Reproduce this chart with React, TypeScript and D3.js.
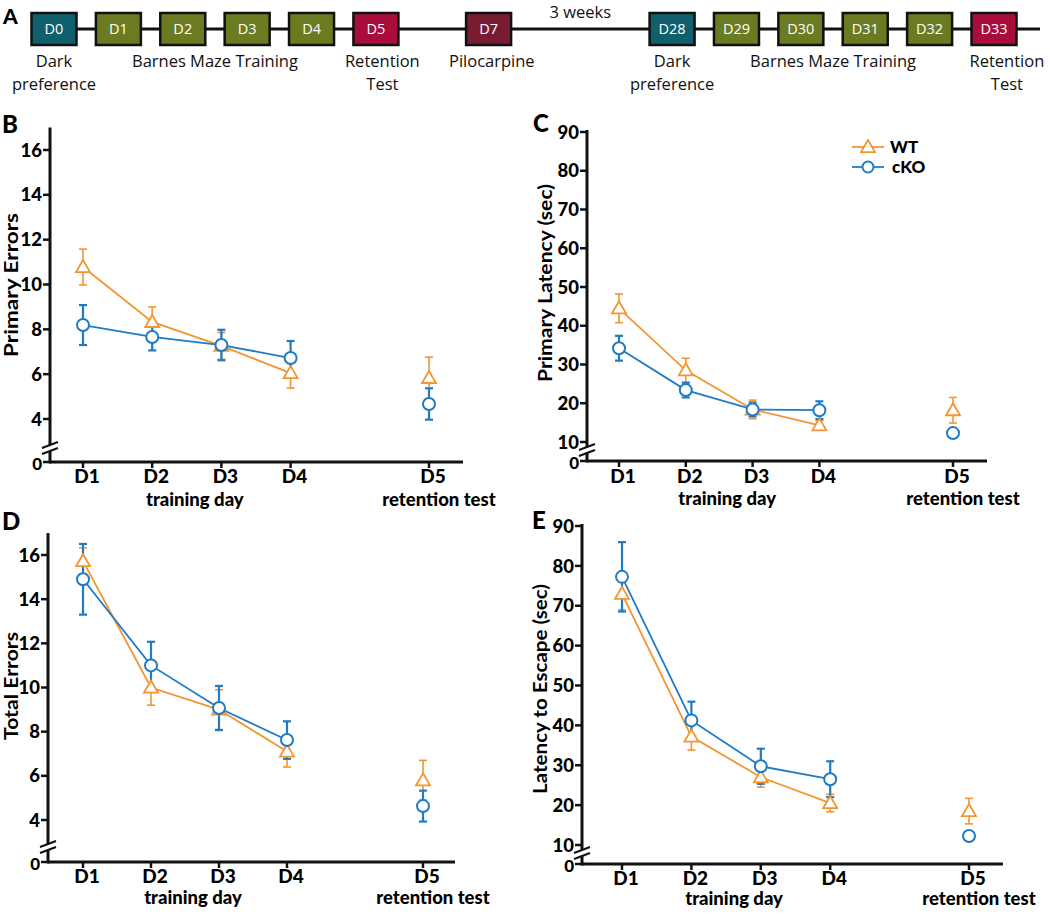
import React from "react";
import * as d3 from "d3";

// ---------- Panel A: timeline ----------
const timelineDays = ["D0", "D1", "D2", "D3", "D4", "D5", "D7", "D28", "D29", "D30", "D31", "D32", "D33"];
const timelineKinds = ["dark", "train", "train", "train", "train", "test", "pilo", "dark", "train", "train", "train", "train", "test"];
const timelineSlots = [0, 1, 2, 3, 4, 5, 6.75, 9.6, 10.6, 11.6, 12.6, 13.6, 14.6];
const captionSlots = [0, 2.5, 5.1, 6.8, 9.6, 12.1, 14.8];
const captionLines = [
  ["Dark", "preference"],
  ["Barnes Maze Training"],
  ["Retention", "Test"],
  ["Pilocarpine"],
  ["Dark", "preference"],
  ["Barnes Maze Training"],
  ["Retention", "Test"],
];
const gapLabel = "3 weeks";

// ---------- Panels B-E data ----------
const days = ["D1", "D2", "D3", "D4", "D5"];
const dayPositions = [1, 2, 3, 4, 6];
const seriesNames = ["WT", "cKO"];

const primaryErrorsWT = [10.78, 8.33, 7.26, 6.05, 5.83];
const primaryErrorsWTSem = [0.8, 0.67, 0.6, 0.67, 0.93];
const primaryErrorsKO = [8.19, 7.66, 7.3, 6.72, 4.67];
const primaryErrorsKOSem = [0.89, 0.6, 0.68, 0.76, 0.7];

const primaryLatencyWT = [44.5, 28.5, 18.4, 14.3, 18.2];
const primaryLatencyWTSem = [3.7, 3.1, 2.4, 1.2, 3.3];
const primaryLatencyKO = [34.2, 23.4, 18.4, 18.2, 12.3];
const primaryLatencyKOSem = [3.2, 1.9, 1.8, 2.3, 1.0];

const totalErrorsWT = [15.72, 10.0, 9.0, 7.1, 5.8];
const totalErrorsWTSem = [0.6, 0.8, 0.9, 0.7, 0.9];
const totalErrorsKO = [14.9, 11.0, 9.07, 7.62, 4.63];
const totalErrorsKOSem = [1.6, 1.07, 1.0, 0.85, 0.7];

const escapeWT = [73.0, 37.2, 27.0, 20.5, 18.5];
const escapeWTSem = [4.0, 3.4, 2.5, 2.2, 3.2];
const escapeKO = [77.25, 41.25, 29.75, 26.5, 12.25];
const escapeKOSem = [8.7, 4.7, 4.4, 4.5, 1.0];

const errorTicks = [4, 6, 8, 10, 12, 14, 16];
const secTicks = [10, 20, 30, 40, 50, 60, 70, 80, 90];

const ORANGE = "#F39530";
const BLUE = "#1F7BC4";
const AXIS_FONT = "Lato, 'Open Sans', sans-serif";
const TL_FONT = "'Open Sans', 'Noto Sans', sans-serif";

const boxColors: Record<string, string> = {
  dark: "#0f5f6d",
  train: "#6b7b22",
  test: "#a80d3b",
  pilo: "#7a1c31",
};

function Timeline() {
  const x = d3.scaleLinear().domain([0, 14.6]).range([54, 994]);
  const bw = 45;
  const bh = 32;
  const cy = 29;
  return (
    <g>
      <text x={3} y={24} fontFamily={AXIS_FONT} fontWeight={900} fontSize={21}>A</text>
      <line x1={x(0) - bw / 2} x2={1040} y1={cy} y2={cy} stroke="#111" strokeWidth={3} />
      {timelineDays.map((d, i) => (
        <g key={d}>
          <rect
            x={x(timelineSlots[i]) - bw / 2}
            y={cy - bh / 2}
            width={bw}
            height={bh}
            fill={boxColors[timelineKinds[i]]}
            stroke="#111"
            strokeWidth={2.5}
          />
          <text
            x={x(timelineSlots[i])}
            y={cy + 5}
            textAnchor="middle"
            fill="#fff"
            fontFamily={TL_FONT}
            fontSize={14.5}
          >
            {d}
          </text>
        </g>
      ))}
      <text x={(x(6.75) + x(9.6)) / 2} y={18} textAnchor="middle" fontFamily={TL_FONT} fontSize={16.5} fill="#111">
        {gapLabel}
      </text>
      {captionLines.map((lines, i) => (
        <text key={i} textAnchor="middle" fontFamily={TL_FONT} fontSize={16.5} fill="#111">
          {lines.map((l, j) => (
            <tspan key={j} x={x(captionSlots[i])} y={67 + j * 23}>
              {l}
            </tspan>
          ))}
        </text>
      ))}
    </g>
  );
}

type PanelCfg = {
  letter: string;
  letterX: number;
  letterY: number;
  left: number;
  ticks: number[];
  lowVal: number;
  lowPx: number;
  highVal: number;
  highPx: number;
  topVal: number;
  base: number;
  brkY: number;
  x1: number;
  x5: number;
  axisEnd: number;
  ylabel: string;
  ylabelX: number;
  ylabelY: number;
  ylabelLen: number;
  tickBase: number;
  titleBase: number;
  legend?: boolean;
};

function Panel({
  cfg,
  wt,
  wtSem,
  ko,
  koSem,
}: {
  cfg: PanelCfg;
  wt: number[];
  wtSem: number[];
  ko: number[];
  koSem: number[];
}) {
  const y = d3.scaleLinear().domain([cfg.lowVal, cfg.highVal]).range([cfg.lowPx, cfg.highPx]);
  const x = d3.scaleLinear().domain([1, 6]).range([cfg.x1, cfg.x5]);
  const line = d3
    .line<number>()
    .x((_, i) => x(dayPositions[i]))
    .y((v) => y(v));
  const cap = 4;
  const tri = (cx: number, cy: number) => {
    const s = 7;
    return `M${cx},${cy - s} L${cx + s},${cy + s * 0.72} L${cx - s},${cy + s * 0.72} Z`;
  };
  const errBar = (vals: number[], sems: number[], color: string, w: number) =>
    vals.map((v, i) => {
      const cx = x(dayPositions[i]);
      const t = y(v + sems[i]);
      const b = y(v - sems[i]);
      return (
        <g key={i} stroke={color} strokeWidth={w} fill="none">
          <line x1={cx} x2={cx} y1={t} y2={b} />
          <line x1={cx - cap} x2={cx + cap} y1={t} y2={t} />
          <line x1={cx - cap} x2={cx + cap} y1={b} y2={b} />
        </g>
      );
    });
  const axTop = y(cfg.topVal);
  return (
    <g>
      <text x={cfg.letterX} y={cfg.letterY} fontFamily={AXIS_FONT} fontWeight={900} fontSize={24}>
        {cfg.letter}
      </text>
      {/* axes */}
      <line x1={cfg.left} x2={cfg.left} y1={axTop} y2={cfg.base + 1.5} stroke="#111" strokeWidth={3} />
      <line x1={cfg.left} x2={cfg.axisEnd} y1={cfg.base} y2={cfg.base} stroke="#111" strokeWidth={3} />
      {/* axis break */}
      <rect x={cfg.left - 3} y={cfg.brkY - 3} width={6} height={6} fill="#fff" />
      <line x1={cfg.left - 8} x2={cfg.left + 8} y1={cfg.brkY} y2={cfg.brkY - 6} stroke="#111" strokeWidth={2} />
      <line x1={cfg.left - 8} x2={cfg.left + 8} y1={cfg.brkY + 6} y2={cfg.brkY} stroke="#111" strokeWidth={2} />
      {/* y ticks */}
      {cfg.ticks.map((t) => (
        <g key={t}>
          <line x1={cfg.left - 7} x2={cfg.left} y1={y(t)} y2={y(t)} stroke="#111" strokeWidth={2.5} />
          <text
            x={cfg.left - 8}
            y={y(t)}
            dy="0.36em"
            textAnchor="end"
            fontFamily={AXIS_FONT}
            fontWeight={900}
            fontSize={18.5}
          >
            {t}
          </text>
        </g>
      ))}
      <line x1={cfg.left - 7} x2={cfg.left} y1={cfg.base} y2={cfg.base} stroke="#111" strokeWidth={2.5} />
      <text x={cfg.left - 8} y={cfg.base + 2} dy="0.36em" textAnchor="end" fontFamily={AXIS_FONT} fontWeight={900} fontSize={17}>
        0
      </text>
      {/* x ticks */}
      {days.map((d, i) => (
        <g key={d}>
          <line x1={x(dayPositions[i])} x2={x(dayPositions[i])} y1={cfg.base} y2={cfg.base + 6} stroke="#111" strokeWidth={2.5} />
          <text
            x={x(dayPositions[i]) + 4}
            y={cfg.tickBase}
            textAnchor="middle"
            fontFamily={AXIS_FONT}
            fontWeight={900}
            fontSize={19}
          >
            {d}
          </text>
        </g>
      ))}
      <text
        x={(x(2) + x(3)) / 2 + 8}
        y={cfg.titleBase}
        textAnchor="middle"
        fontFamily={AXIS_FONT}
        fontWeight={900}
        fontSize={18.5}
      >
        training day
      </text>
      <text x={x(6) + 10} y={cfg.titleBase} textAnchor="middle" fontFamily={AXIS_FONT} fontWeight={900} fontSize={18.5}>
        retention test
      </text>
      <text
        transform={`translate(${cfg.ylabelX},${cfg.ylabelY}) rotate(-90)`}
        textAnchor="middle"
        dy="0.35em"
        fontFamily={AXIS_FONT}
        fontWeight={700}
        fontSize={18}
        textLength={cfg.ylabelLen}
        lengthAdjust="spacingAndGlyphs"
      >
        {cfg.ylabel}
      </text>
      {/* data */}
      <path d={line(wt.slice(0, 4)) || ""} fill="none" stroke={ORANGE} strokeWidth={1.8} />
      <path d={line(ko.slice(0, 4)) || ""} fill="none" stroke={BLUE} strokeWidth={1.8} />
      {errBar(wt, wtSem, ORANGE, 1.6)}
      {errBar(ko, koSem, BLUE, 2.2)}
      {wt.map((v, i) => (
        <path key={"w" + i} d={tri(x(dayPositions[i]), y(v))} fill="#fff" stroke={ORANGE} strokeWidth={1.8} />
      ))}
      {ko.map((v, i) => (
        <circle key={"k" + i} cx={x(dayPositions[i])} cy={y(v)} r={6} fill="#fff" stroke={BLUE} strokeWidth={2} />
      ))}
      {cfg.legend && (
        <g>
          <line x1={852} x2={884} y1={147} y2={147} stroke={ORANGE} strokeWidth={1.8} />
          <path d={tri(868, 147)} fill="#fff" stroke={ORANGE} strokeWidth={1.8} />
          <text x={890} y={153} fontFamily={AXIS_FONT} fontWeight={900} fontSize={17}>
            {seriesNames[0]}
          </text>
          <line x1={852} x2={884} y1={167} y2={167} stroke={BLUE} strokeWidth={1.8} />
          <circle cx={868} cy={167} r={5.5} fill="#fff" stroke={BLUE} strokeWidth={2} />
          <text x={892} y={173} fontFamily={AXIS_FONT} fontWeight={900} fontSize={17}>
            {seriesNames[1]}
          </text>
        </g>
      )}
    </g>
  );
}

const cfgB: PanelCfg = {
  letter: "B", letterX: 2, letterY: 133, left: 50, ticks: errorTicks,
  lowVal: 4, lowPx: 419, highVal: 16, highPx: 150, topVal: 17, base: 462, brkY: 448,
  x1: 83, x5: 429, axisEnd: 463, ylabel: "Primary Errors", ylabelX: 12, ylabelY: 285, ylabelLen: 144,
  tickBase: 483, titleBase: 506,
};
const cfgC: PanelCfg = {
  letter: "C", letterX: 533, letterY: 132, left: 587, ticks: secTicks,
  lowVal: 10, lowPx: 442, highVal: 90, highPx: 132, topVal: 90.5, base: 461, brkY: 450,
  x1: 619, x5: 953, axisEnd: 987, ylabel: "Primary Latency (sec)", ylabelX: 546, ylabelY: 283, ylabelLen: 198,
  tickBase: 483, titleBase: 505, legend: true,
};
const cfgD: PanelCfg = {
  letter: "D", letterX: 2, letterY: 530, left: 48, ticks: errorTicks,
  lowVal: 4, lowPx: 820, highVal: 16, highPx: 555, topVal: 17, base: 862, brkY: 847,
  x1: 83, x5: 423, axisEnd: 455, ylabel: "Total Errors", ylabelX: 12, ylabelY: 686, ylabelLen: 108,
  tickBase: 883, titleBase: 904,
};
const cfgE: PanelCfg = {
  letter: "E", letterX: 532, letterY: 529, left: 582, ticks: secTicks,
  lowVal: 10, lowPx: 845, highVal: 90, highPx: 526, topVal: 90.5, base: 864, brkY: 853,
  x1: 622, x5: 969, axisEnd: 1003, ylabel: "Latency to Escape (sec)", ylabelX: 541, ylabelY: 689, ylabelLen: 210,
  tickBase: 885, titleBase: 905,
};

export default function App() {
  return (
    <svg
      width={1050}
      height={915}
      viewBox="0 0 1050 915"
      style={{ position: "absolute", left: 0, top: 0, background: "#fff" }}
    >
      <rect width={1050} height={915} fill="#fff" />
      <Timeline />
      <Panel cfg={cfgB} wt={primaryErrorsWT} wtSem={primaryErrorsWTSem} ko={primaryErrorsKO} koSem={primaryErrorsKOSem} />
      <Panel cfg={cfgC} wt={primaryLatencyWT} wtSem={primaryLatencyWTSem} ko={primaryLatencyKO} koSem={primaryLatencyKOSem} />
      <Panel cfg={cfgD} wt={totalErrorsWT} wtSem={totalErrorsWTSem} ko={totalErrorsKO} koSem={totalErrorsKOSem} />
      <Panel cfg={cfgE} wt={escapeWT} wtSem={escapeWTSem} ko={escapeKO} koSem={escapeKOSem} />
    </svg>
  );
}
